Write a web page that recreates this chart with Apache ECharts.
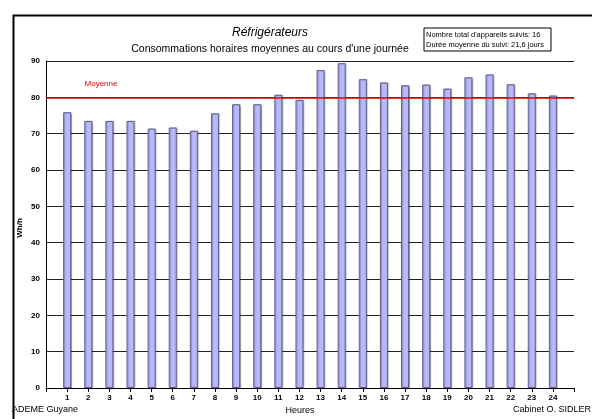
<!DOCTYPE html>
<html>
<head>
<meta charset="utf-8">
<script src="https://cdn.jsdelivr.net/npm/echarts@6/dist/echarts.min.js"></script>
<style>
html,body{margin:0;padding:0;background:#fff;}
#chart{width:592px;height:419px;}
</style>
</head>
<body>
<div id="chart"></div>
<script>
const hours = [1,2,3,4,5,6,7,8,9,10,11,12,13,14,15,16,17,18,19,20,21,22,23,24];
const consumption = [75.9,73.5,73.5,73.5,71.4,71.7,70.8,75.6,78.1,78.1,80.7,79.3,87.5,89.4,85.0,84.1,83.3,83.5,82.4,85.5,86.3,83.6,81.1,80.5];
const average = 80;
const titleText = 'Réfrigérateurs';
const subtitleText = "Consommations horaires moyennes au cours d'une journée";
const infoLines = ["Nombre total d'appareils suivis: 16", "Durée moyenne du suivi: 21,6 jours"];
const yAxisName = 'Wh/h';

const narrow = '"Liberation Sans Narrow", "Arial Narrow", "Liberation Sans", Arial, sans-serif';
const sans = '"Liberation Sans", Arial, sans-serif';

const chart = echarts.init(document.getElementById('chart'), null, {renderer:'canvas'});
chart.setOption({
  animation: false,
  backgroundColor: '#fff',
  grid: {left: 46, right: 18, top: 61, bottom: 31},
  xAxis: {
    type: 'value', min: 0, max: 25, interval: 1,
    axisLine: {show: true, lineStyle: {color: '#000', width: 1}},
    axisTick: {show: true, length: 4, inside: false, lineStyle: {color: '#000'}},
    splitLine: {show: false},
    axisLabel: {
      margin: 6, color: '#000', fontSize: 8, fontWeight: 'bold', fontFamily: narrow,
      formatter: v => (v >= hours[0] && v <= hours[hours.length-1]) ? String(v) : ''
    }
  },
  yAxis: {
    type: 'value', min: 0, max: 90, interval: 10,
    axisLine: {show: true, lineStyle: {color: '#000', width: 1}},
    axisTick: {show: false},
    splitLine: {show: true, lineStyle: {color: '#222', width: 1}},
    axisLabel: {margin: 6, color: '#000', fontSize: 8, fontWeight: 'bold', fontFamily: narrow}
  },
  series: [{
    type: 'bar',
    barWidth: 8,
    data: hours.map((h, i) => [h, consumption[i]]),
    itemStyle: {
      color: '#b8b8fc',
      borderColor: '#62628a',
      borderWidth: 1,
      shadowColor: 'rgba(0,0,0,0.25)',
      shadowOffsetX: 1,
      shadowOffsetY: 0,
      shadowBlur: 1
    },
    markLine: {
      silent: true,
      symbol: 'none',
      label: {show: false},
      lineStyle: {color: '#e00000', width: 1.5, type: 'solid'},
      data: [{yAxis: average}]
    },
    z: 3
  }],
  graphic: [
    {type: 'rect', left: 11, top: 13, shape: {width: 620, height: 430},
     style: {fill: 'none', stroke: '#000', lineWidth: 2}, z: 0},
    {type: 'text', x: 20, y: 228, rotation: Math.PI / 2, style: {text: yAxisName, fontSize: 8, fontWeight: 'bold', fontFamily: sans, fill: '#000', align: 'center', verticalAlign: 'middle'}},
    {type: 'text', x: 270, y: 33, style: {text: titleText, fontSize: 12, fontStyle: 'italic', fontFamily: sans, fill: '#000', align: 'center', verticalAlign: 'middle'}},
    {type: 'text', x: 270, y: 49, style: {text: subtitleText, fontSize: 10.5, fontFamily: sans, fill: '#000', align: 'center', verticalAlign: 'middle'}},
    {type: 'rect', x: 424, y: 28, shape: {width: 127, height: 23}, style: {fill: '#fff', stroke: '#000', lineWidth: 1}},
    {type: 'text', x: 426, y: 35, style: {text: infoLines[0], fontSize: 7.5, fontFamily: narrow, fill: '#000', align: 'left', verticalAlign: 'middle'}},
    {type: 'text', x: 426, y: 45, style: {text: infoLines[1], fontSize: 7.5, fontFamily: narrow, fill: '#000', align: 'left', verticalAlign: 'middle'}},
    {type: 'text', x: 101, y: 84, style: {text: 'Moyenne', fontSize: 8, fontFamily: narrow, fill: '#e00000', align: 'center', verticalAlign: 'middle'}},
    {type: 'text', x: 300, y: 411, style: {text: 'Heures', fontSize: 9, fontFamily: sans, fill: '#000', align: 'center', verticalAlign: 'middle'}},
    {type: 'text', x: 12, y: 410, style: {text: 'ADEME Guyane', fontSize: 9, fontFamily: sans, fill: '#000', align: 'left', verticalAlign: 'middle'}},
    {type: 'text', x: 591, y: 410, style: {text: 'Cabinet O. SIDLER', fontSize: 9, fontFamily: sans, fill: '#000', align: 'right', verticalAlign: 'middle'}}
  ]
});
</script>
</body>
</html>
